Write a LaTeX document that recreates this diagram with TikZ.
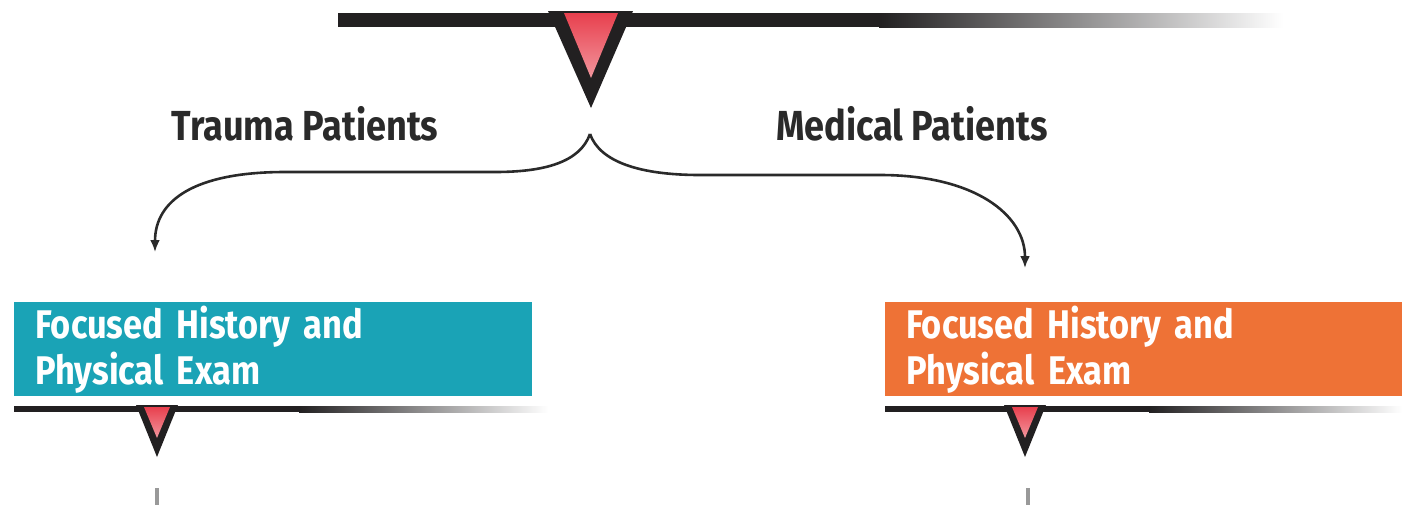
\documentclass[tikz,border=0pt]{standalone}
\usepackage{fontspec}
\setmainfont{Fira Sans}[FakeStretch=0.86]
\usetikzlibrary{arrows.meta}
\definecolor{barcol}{HTML}{222021}
\definecolor{tred}{HTML}{E8404E}
\definecolor{tealbox}{HTML}{1AA3B6}
\definecolor{orangebox}{HTML}{EE7236}
\definecolor{labcol}{HTML}{2A2A2A}
\tikzset{
  hbox/.style={anchor=north west, inner xsep=10.5pt, inner ysep=0pt, minimum height=47pt,
    align=left, text=white, font=\bfseries\fontsize{20}{23}\selectfont},
  lab/.style={text=labcol, font=\bfseries\fontsize{21}{24}\selectfont, inner sep=0pt},
  conn/.style={draw=labcol, line width=1.3pt, -{Latex[length=6pt,width=5pt]}},
  stub/.style={draw=black!40, line width=1.6pt}
}
\begin{document}
\begin{tikzpicture}[x=0.5pt,y=-0.5pt]
\useasboundingbox (0,0) rectangle (1402,505);
% top bar
\fill[barcol] (338,13) rectangle (880,27);
\shade[left color=barcol,right color=white] (879,13) rectangle (1283,27);
% top pointer
\fill[barcol] (548,11) -- (633,11) -- (591,108) -- cycle;
\shade[top color=tred, bottom color=tred!55!white] (564,13) -- (618,13) -- (591,78) -- cycle;
% labels
\node[lab] (trauma) at (305,124) {Trauma Patients};
\node[lab] (medical) at (912,124) {Medical Patients};
% split and arrows
\coordinate (split) at (590,134);
\coordinate (tl) at (155,252);
\coordinate (tr) at (1025,268);
\draw[conn] (split) .. controls (580,162) and (545,172) .. (495,172) -- (285,172) .. controls (195,172) and (155,200) .. (tl);
\draw[conn] (split) .. controls (600,162) and (640,175) .. (700,175) -- (880,175) .. controls (975,175) and (1025,215) .. (tr);
% boxes
\node[hbox, fill=tealbox, minimum width=259pt, text width=238pt] (tbox) at (14,302) {Focused History and\\Physical Exam};
\node[hbox, fill=orangebox, minimum width=259pt, text width=238pt] (obox) at (885,302) {Focused History and\\Physical Exam};
% lower bars
\fill[barcol] (14,406) rectangle (300,412);
\shade[left color=barcol,right color=white] (299,406) rectangle (548,412);
\fill[barcol] (885,406) rectangle (1150,412);
\shade[left color=barcol,right color=white] (1149,406) rectangle (1402,412);
% lower pointers
\fill[barcol] (136,405) -- (178,405) -- (157,457) -- cycle;
\shade[top color=tred, bottom color=tred!55!white] (144,407) -- (170,407) -- (157,438) -- cycle;
\fill[barcol] (1004,405) -- (1046,405) -- (1025,457) -- cycle;
\shade[top color=tred, bottom color=tred!55!white] (1012,407) -- (1038,407) -- (1025,438) -- cycle;
% stubs
\coordinate (sl) at (157,488);
\coordinate (sr) at (1028,488);
\draw[stub] (sl) -- (157,505);
\draw[stub] (sr) -- (1028,505);
\end{tikzpicture}
\end{document}
